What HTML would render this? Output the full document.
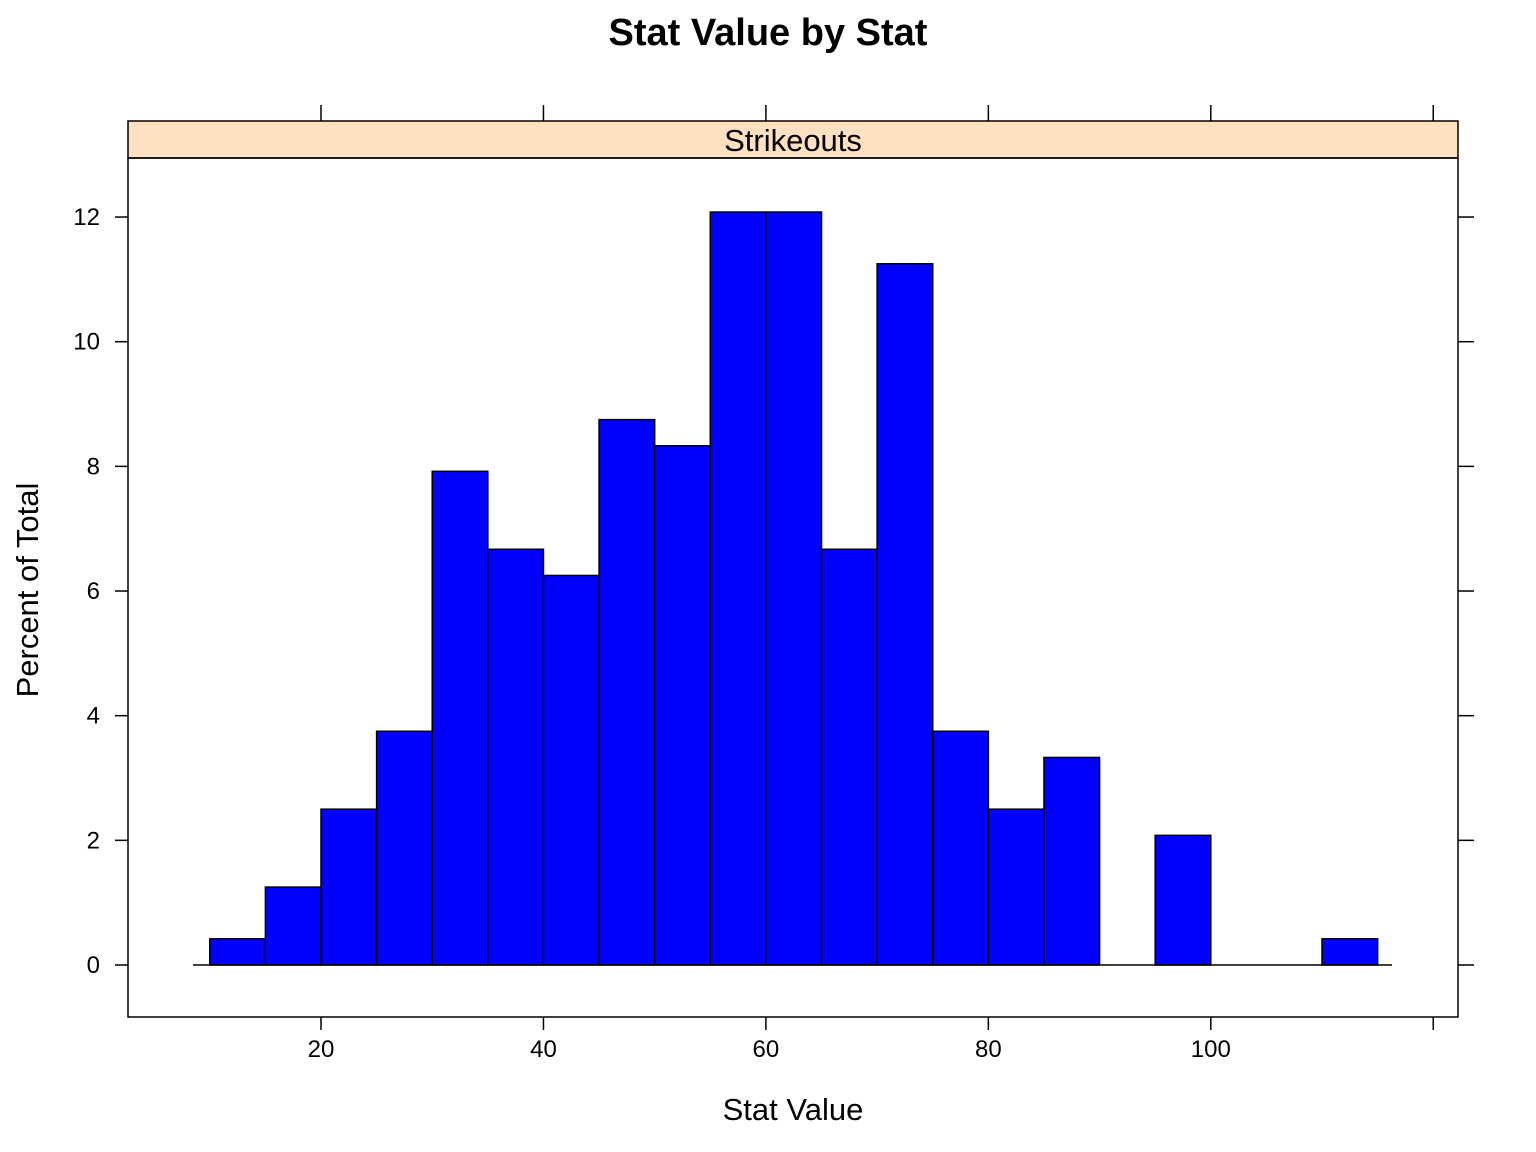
<!DOCTYPE html>
<html><head><meta charset="utf-8"><style>
html,body{margin:0;padding:0;background:#fff;}
svg{display:block;font-family:"Liberation Sans",Arial,sans-serif;}
</style></head><body>
<svg id="chart" width="1536" height="1152" viewBox="0 0 1536 1152" xmlns="http://www.w3.org/2000/svg">
<text x="768" y="45" text-anchor="middle" font-size="38" font-weight="bold">Stat Value by Stat</text>
<rect x="128" y="121" width="1330" height="37" fill="#ffe0c0" stroke="#000" stroke-width="1.5"/>
<text x="793" y="151" text-anchor="middle" font-size="31">Strikeouts</text>
<rect x="128" y="158" width="1330" height="859" fill="none" stroke="#000" stroke-width="1.5"/>
<g id="bars"></g>
<g id="axes"></g>
<text x="793" y="1120" text-anchor="middle" font-size="31">Stat Value</text>
<text transform="translate(38,590) rotate(-90)" text-anchor="middle" font-size="31">Percent of Total</text>
</svg>
<script>
const binStarts = [10,15,20,25,30,35,40,45,50,55,60,65,70,75,80,85,90,95,100,105,110];
const percents = [0.42,1.25,2.5,3.75,7.92,6.67,6.25,8.75,8.33,12.08,12.08,6.67,11.25,3.75,2.5,3.33,0,2.08,0,0,0.42];
const binWidth = 5;
const xTicks = [20,40,60,80,100];
const yTicks = [0,2,4,6,8,10,12];
const NS = "http://www.w3.org/2000/svg";
function x(v){return 321 + (v-20)*11.1225;}
function y(v){return 965 - v*62.33;}
const bars = document.getElementById('bars');
const axes = document.getElementById('axes');
function mk(tag, attrs, parent){const e=document.createElementNS(NS,tag);for(const k in attrs)e.setAttribute(k,attrs[k]);parent.appendChild(e);return e;}
binStarts.forEach((b,i)=>{
  const v = percents[i];
  if(v>0){
    const r = mk('rect',{x:x(b),y:y(v),width:x(b+binWidth)-x(b),height:y(0)-y(v),fill:'#0000ff',stroke:'#000','stroke-width':1.5},bars);
    
    
  }
});
const base = mk('line',{x1:193,x2:1392,y1:y(0),y2:y(0),stroke:'#000','stroke-width':1.5},bars);


xTicks.forEach(t=>{
  mk('line',{x1:x(t),x2:x(t),y1:1017,y2:1030,stroke:'#000','stroke-width':1.5},axes);
  mk('line',{x1:x(t),x2:x(t),y1:105,y2:121,stroke:'#000','stroke-width':1.5},axes);
  const tx = mk('text',{x:x(t),y:1057,'text-anchor':'middle','font-size':24},axes);
  tx.textContent = t;
  
  
});
mk('line',{x1:x(120),x2:x(120),y1:1017,y2:1030,stroke:'#000','stroke-width':1.5},axes);
mk('line',{x1:x(120),x2:x(120),y1:105,y2:121,stroke:'#000','stroke-width':1.5},axes);
yTicks.forEach(t=>{
  mk('line',{x1:115,x2:128,y1:y(t),y2:y(t),stroke:'#000','stroke-width':1.5},axes);
  mk('line',{x1:1458,x2:1474,y1:y(t),y2:y(t),stroke:'#000','stroke-width':1.5},axes);
  const tx = mk('text',{x:100,y:y(t)+8,'text-anchor':'end','font-size':24},axes);
  tx.textContent = t;
  
  
});
</script>
</body></html>
